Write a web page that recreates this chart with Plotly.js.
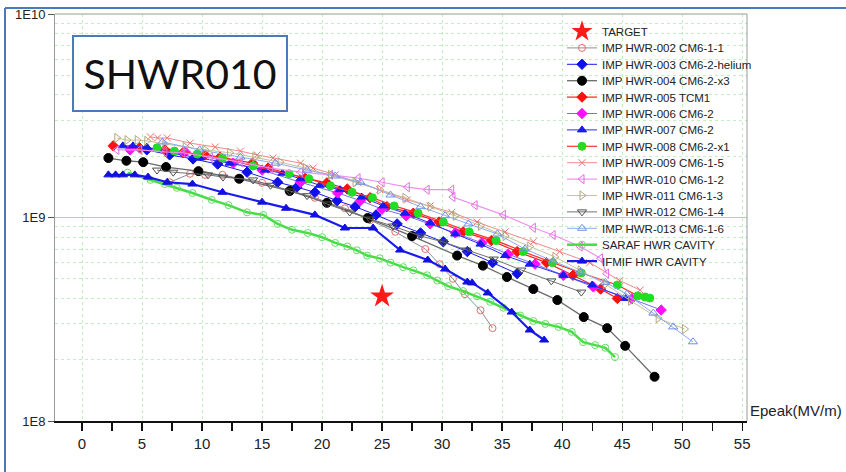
<!DOCTYPE html>
<html><head><meta charset="utf-8">
<script src="https://cdn.plot.ly/plotly-3.0.1.min.js"></script>
<style>html,body{margin:0;padding:0;background:#fff}#c{width:846px;height:472px}</style>
</head><body><div id="c"></div>
<script>
// Q0 values are in units of 1e9
const UNIT = 1e9;
const targetE = [25];   const targetQ = [0.41];
const e002 = [7.3,9.0,10.25,11.7,13.0,15.0,17.3,19.4,21.9,24.0,26.1,28.6,29.8,30.9,31.9,33.2,34.2];
const q002 = [1.49,1.64,1.62,1.62,1.56,1.48,1.36,1.25,1.11,0.97,0.85,0.70,0.59,0.50,0.42,0.35,0.286];
const e003 = [5.4,7.3,9.25,11.3,13.75,16.3,17.9,19.4,21.25,22.75,24.5,26.25,28.2,30.1,32.1,34.2,36.25];
const q003 = [2.15,2.03,1.94,1.83,1.67,1.49,1.41,1.33,1.21,1.13,1.03,0.93,0.84,0.76,0.68,0.60,0.53];
const e004 = [2.2,3.7,5.1,7.0,9.7,13.1,17.3,20.4,23.8,27.5,31.25,33.4,35.4,37.6,39.6,41.8,43.75,45.25,47.7];
const q004 = [1.96,1.90,1.87,1.77,1.69,1.55,1.35,1.18,0.994,0.81,0.65,0.58,0.51,0.445,0.393,0.324,0.286,0.234,0.165];
const e005 = [2.6,4.8,6.9,8.4,10.25,11.5,14.2,15.5,18.6,20.4,22.1,24.0,25.4,27.6,29.75,31.75,34.1,36.25,38.7,40.9,43.2,44.6];
const q005 = [2.25,2.20,2.15,2.08,2.03,1.98,1.85,1.75,1.56,1.48,1.38,1.25,1.13,1.05,0.95,0.85,0.77,0.68,0.60,0.52,0.445,0.40];
const e006 = [4.0,8.6,12.6,15.0,18.2,21.3,23.2,25.0,27.0,29.0,31.1,33.3,35.5,37.75,40.1,42.6,45.8,48.25];
const q006 = [2.15,2.10,1.85,1.71,1.49,1.32,1.21,1.10,1.02,0.93,0.84,0.75,0.66,0.59,0.52,0.456,0.398,0.351];
const e007 = [3.4,4.25,5.4,7.3,9.8,12.3,15.25,16.7,18.2,19.8,21.5,23.3,25.1,26.9,29.0,31.1,33.2,35.25,37.3,40.1,42.5,45.3];
const q007 = [2.25,2.25,2.22,2.08,1.96,1.85,1.71,1.65,1.55,1.44,1.37,1.26,1.14,1.05,0.94,0.83,0.74,0.65,0.59,0.52,0.466,0.40];
const e008 = [6.25,7.7,9.6,11.7,14.25,17.25,18.9,20.7,22.5,24.2,26.0,28.0,30.1,32.25,34.5,36.75,39.2,41.6,44.6,46.3,46.9,47.3];
const q008 = [2.20,2.12,2.05,1.96,1.79,1.64,1.55,1.43,1.33,1.25,1.14,1.05,0.95,0.85,0.77,0.68,0.60,0.534,0.466,0.412,0.407,0.402];
const e009 = [5.7,6.3,7.1,9.0,11.1,13.2,14.6,15.9,18.2,19.25,21.1,23.0,24.8,27.1,29.0,30.8,32.9,35.25,37.6,39.8,42.3,44.8,46.5];
const q009 = [2.49,2.46,2.46,2.32,2.22,2.12,2.03,1.96,1.85,1.75,1.62,1.48,1.37,1.22,1.14,1.06,0.95,0.85,0.76,0.68,0.60,0.49,0.44];
const e010 = [2.9,4.8,6.9,8.4,10.7,13.2,15.7,18.2,20.7,23.0,25.0,27.1,28.75,30.8,30.9,32.75,35.1,37.6,39.25,41.5,43.2,43.7];
const q010 = [2.15,2.15,2.10,2.08,1.98,1.87,1.75,1.67,1.62,1.56,1.49,1.41,1.37,1.37,1.26,1.15,1.03,0.89,0.82,0.72,0.63,0.53];
const e011 = [2.9,3.75,4.6,5.4,6.9,8.6,10.25,12.3,14.4,16.5,18.6,20.7,22.75,24.8,26.9,29.0,31.1,33.2,35.25,37.3,39.4,41.5,43.6,45.7,48.0,50.2];
const q011 = [2.46,2.40,2.40,2.38,2.30,2.22,2.15,2.08,1.98,1.87,1.75,1.62,1.49,1.37,1.25,1.13,1.02,0.91,0.81,0.72,0.64,0.55,0.47,0.39,0.32,0.283];
const e012 = [6.25,7.6,10.5,11.75,14.25,15.7,17.3,18.75,20.4,22.3,24.0,25.9,28.2,30.1,32.0,34.3,36.6,39.1,41.6];
const q012 = [1.71,1.67,1.62,1.58,1.53,1.44,1.35,1.28,1.165,1.064,0.983,0.908,0.811,0.758,0.692,0.625,0.552,0.488,0.430];
const e013 = [6.7,9.8,13.2,16.1,18.75,21.1,23.2,25.7,28.2,30.25,32.2,34.6,36.9,39.25,41.5,43.6,45.4,47.6,49.25,50.9];
const q013 = [2.35,2.15,1.98,1.85,1.71,1.60,1.49,1.29,1.13,1.02,0.93,0.83,0.70,0.61,0.54,0.48,0.42,0.339,0.29,0.245];
const eSaraf = [3.8,5.7,6.9,7.9,9.2,10.8,12.2,13.75,15.1,16.3,17.5,18.8,20.0,21.1,22.1,22.9,23.75,24.8,25.7,26.75,27.6,28.75,29.6,30.5,31.75,32.9,34.0,35.1,36.5,37.6,38.6,39.7,40.8,41.75,42.75,43.6,44.4];
const qSaraf = [1.66,1.53,1.46,1.40,1.32,1.22,1.15,1.06,1.03,0.93,0.87,0.84,0.80,0.75,0.72,0.69,0.65,0.63,0.60,0.57,0.55,0.52,0.49,0.46,0.435,0.41,0.385,0.36,0.33,0.31,0.30,0.29,0.274,0.244,0.236,0.229,0.206];
const eIfmif = [2.2,2.8,3.4,4.4,5.5,7.1,9.2,11.7,15.0,17.0,19.4,21.9,24.25,26.5,28.8,30.25,32.1,32.5,33.8,35.8,37.3,38.5];
const qIfmif = [1.62,1.62,1.62,1.62,1.58,1.49,1.46,1.33,1.19,1.11,1.03,0.888,0.888,0.692,0.618,0.558,0.482,0.477,0.426,0.343,0.280,0.250];

const names = ['TARGET','IMP HWR-002 CM6-1-1','IMP HWR-003 CM6-2-helium','IMP HWR-004 CM6-2-x3','IMP HWR-005 TCM1','IMP HWR-006 CM6-2','IMP HWR-007 CM6-2','IMP HWR-008 CM6-2-x1','IMP HWR-009 CM6-1-5','IMP HWR-010 CM6-1-2','IMP HWR-011 CM6-1-3','IMP HWR-012 CM6-1-4','IMP HWR-013 CM6-1-6','SARAF HWR CAVITY','IFMIF HWR CAVITY'];
const yTickVals = [1e8, 1e9, 1e10];
const yTickText = ['1E8', '1E9', '1E10'];
const yMinorVals = [2e8,3e8,4e8,5e8,6e8,7e8,8e8,9e8,2e9,3e9,4e9,5e9,6e9,7e9,8e9,9e9];

function tr(name, e, q, lc, lw, sym, ms, mc, mline) {
  return {x: e, y: q.map(v => v*UNIT), name: name, type: 'scatter', mode: 'lines+markers',
    line: {color: lc, width: lw},
    marker: {symbol: sym, size: ms, color: mc, line: {color: mline || mc, width: 1}}};
}
const traces = [
  {x: targetE, y: targetQ.map(v=>v*UNIT), name: names[0], type:'scatter', mode:'markers',
   marker:{symbol:'star', size:18, color:'#ff1a1a', line:{width:0}}},
  tr(names[1], e002, q002, '#8c8c98', 1, 'circle-open', 7, '#e86a6a'),
  tr(names[2], e003, q003, '#1a1aee', 1, 'diamond', 8, '#1010e8'),
  tr(names[3], e004, q004, '#6a6a6a', 1.3, 'circle', 9, '#000000'),
  tr(names[4], e005, q005, '#ff2020', 1.2, 'diamond', 8, '#ff1010'),
  tr(names[5], e006, q006, '#7070f0', 1, 'diamond', 8, '#ff10ff'),
  tr(names[6], e007, q007, '#2a2aff', 1, 'triangle-up', 8, '#1a1af0'),
  tr(names[7], e008, q008, '#ff3030', 1.2, 'circle', 8, '#22dd22'),
  tr(names[8], e009, q009, '#f08a8a', 1, 'x-thin-open', 7, '#f07070', '#f07070'),
  tr(names[9], e010, q010, '#f090f0', 1.2, 'triangle-left-open', 8, '#e070e0'),
  tr(names[10], e011, q011, '#c8c098', 1, 'triangle-right-open', 8, '#b0a878'),
  tr(names[11], e012, q012, '#707070', 1, 'triangle-down-open', 8, '#505050'),
  tr(names[12], e013, q013, '#90a8f0', 1, 'triangle-up-open', 8, '#7090e8'),
  tr(names[13], eSaraf, qSaraf, '#44dd44', 2.5, 'circle-open', 7, '#66dd66'),
  tr(names[14], eIfmif, qIfmif, '#1a1aee', 2.2, 'triangle-up', 8, '#1010e0')
];

const L = 55, R = 747, T = 14, B = 421;
const pw = R - L, ph = B - T;
const px = v => (v - L) / pw;
const py = v => (B - v) / ph;
const frame = '#4a7ab8';

const layout = {
  width: 846, height: 472,
  margin: {l: L, r: 846 - R, t: T, b: 472 - B, pad: 0},
  paper_bgcolor: '#fff', plot_bgcolor: '#fff',
  showlegend: true,
  font: {family: 'Liberation Sans, Arial, sans-serif', color: '#222'},
  xaxis: {range: [-2.25, 55.4], tick0: 0, dtick: 5, tickmode: 'linear',
    showgrid: true, gridcolor: '#c4efc4', griddash: 'dot', gridwidth: 1,
    zeroline: false, showline: true, linecolor: '#111', linewidth: 2,
    ticks: 'outside', ticklen: 8, tickwidth: 1.3, tickcolor: '#111',
    minor: {dtick: 2.5, ticks: 'outside', ticklen: 8, tickwidth: 1.3, tickcolor: '#111', showgrid: false},
    tickfont: {family: 'Liberation Sans Narrow, Liberation Sans, Arial', size: 15, color: '#222'},
    ticklabelstandoff: 0},
  yaxis: {type: 'log', range: [8, 10],
    tickmode: 'array', tickvals: yTickVals, ticktext: yTickText,
    showgrid: true, gridcolor: '#90ea90', gridwidth: 1.5,
    minor: {tickmode: 'array', tickvals: yMinorVals, showgrid: true, gridcolor: '#c4efc4', griddash: 'dot', gridwidth: 1, ticks: ''},
    zeroline: false, showline: true, linecolor: '#9a9a9a', linewidth: 1,
    ticks: 'outside', ticklen: 6, tickcolor: '#555',
    tickfont: {family: 'Liberation Sans Narrow, Liberation Sans, Arial', size: 13, color: '#222'}},
  legend: {x: px(562), y: py(17), xanchor: 'left', yanchor: 'top',
    bgcolor: 'rgba(0,0,0,0)', borderwidth: 0,
    font: {family: 'Liberation Sans Narrow, Liberation Sans, Arial', size: 11.5, color: '#222'},
    tracegroupgap: 0, itemwidth: 30},
  shapes: [
    {type: 'line', xref: 'paper', yref: 'paper', x0: 0, x1: 1, y0: 1, y1: 1, line: {color: '#9a9a9a', width: 1}},
    {type: 'line', xref: 'paper', yref: 'paper', x0: 1, x1: 1, y0: 0, y1: 1, line: {color: '#9a9a9a', width: 1}},
    {type: 'line', xref: 'paper', yref: 'paper', x0: px(5), x1: px(5), y0: py(8), y1: py(480), line: {color: frame, width: 2}},
    {type: 'line', xref: 'paper', yref: 'paper', x0: px(5), x1: px(850), y0: py(8), y1: py(8), line: {color: frame, width: 2}}
  ],
  annotations: [
    {xref: 'paper', yref: 'paper', x: px(180), y: py(73.5), xanchor: 'center', yanchor: 'middle',
     text: 'SHWR010', showarrow: false, width: 212, height: 73, borderwidth: 2, bordercolor: frame,
     bgcolor: '#fff', borderpad: 0, font: {family: 'Lato, Noto Sans, sans-serif', size: 41, color: '#111'}},
    {xref: 'paper', yref: 'paper', x: px(748), y: py(410), xanchor: 'left', yanchor: 'middle',
     text: 'Epeak(MV/m)', showarrow: false,
     font: {family: 'Liberation Sans Narrow, Liberation Sans, Arial', size: 15, color: '#222'}}
  ]
};
const gd = document.getElementById('c');
Plotly.newPlot(gd, traces, layout, {displayModeBar: false, staticPlot: true}).then(() => {
  // tighten legend row pitch to match the reference (~16.4 px per entry)
  const items = gd.querySelectorAll('.legend .traces');
  const re = /translate\(\s*([-\d.e]+)[ ,]+([-\d.e]+)\s*\)/;
  let y0 = null;
  items.forEach((g, i) => {
    const m = re.exec(g.getAttribute('transform') || '');
    if (!m) return;
    const x = parseFloat(m[1]), y = parseFloat(m[2]);
    if (y0 === null) y0 = y;
    g.setAttribute('transform', 'translate(' + x + ',' + (y0 + i * 16.4) + ')');
  });
});
</script></body></html>
